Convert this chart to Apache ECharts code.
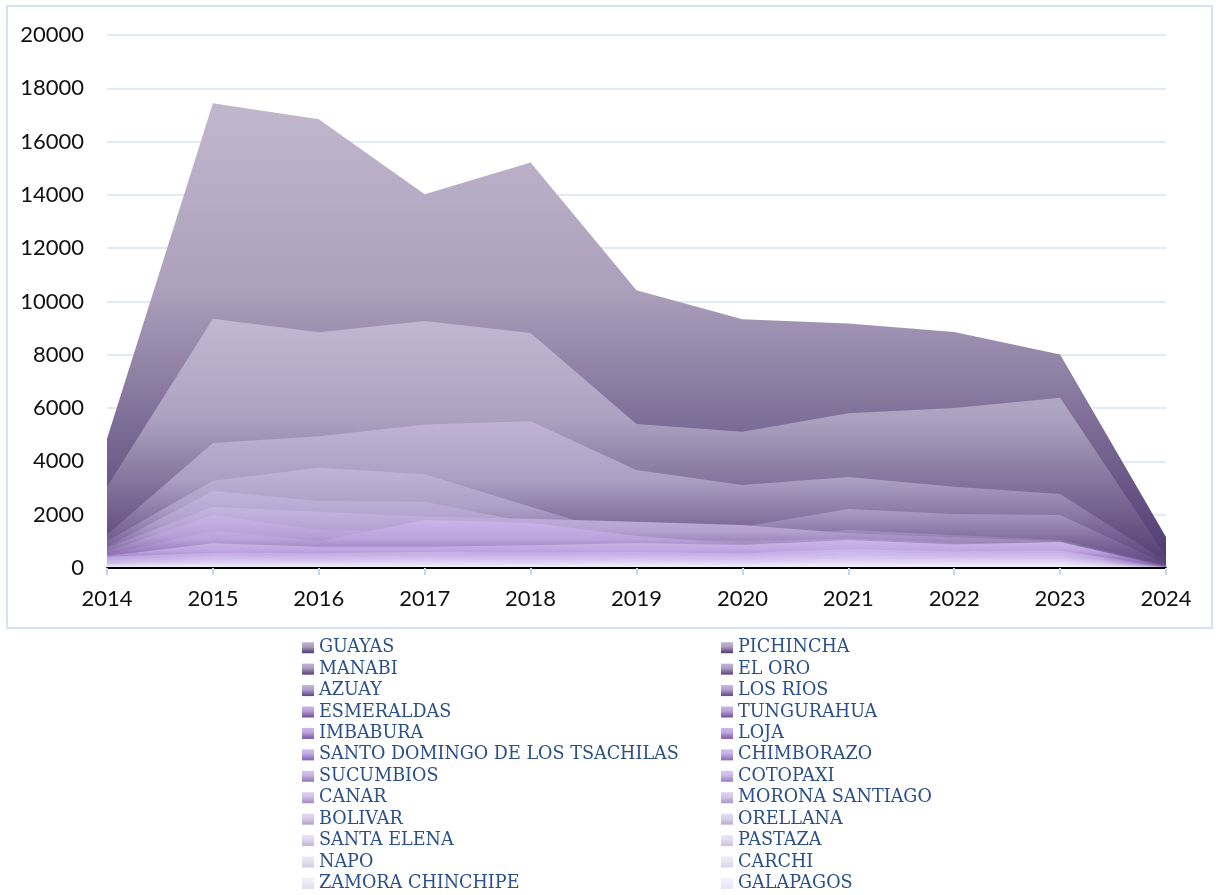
<!DOCTYPE html>
<html>
<head>
<meta charset="utf-8">
<script src="https://cdn.jsdelivr.net/npm/echarts@6/dist/echarts.min.js"></script>
<style>
html,body{margin:0;padding:0;background:#fff;}
#chart{width:1219px;height:895px;}
</style>
</head>
<body>
<div id="chart"></div>
<script>
// ---- data ----
const years = ['2014','2015','2016','2017','2018','2019','2020','2021','2022','2023','2024'];
const yTicks = [0, 2000, 4000, 6000, 8000, 10000, 12000, 14000, 16000, 18000, 20000];
const provinces = ['GUAYAS','PICHINCHA','MANABI','EL ORO','AZUAY','LOS RIOS','ESMERALDAS','TUNGURAHUA','IMBABURA','LOJA','SANTO DOMINGO DE LOS TSACHILAS','CHIMBORAZO','SUCUMBIOS','COTOPAXI','CANAR','MORONA SANTIAGO','BOLIVAR','ORELLANA','SANTA ELENA','PASTAZA','NAPO','CARCHI','ZAMORA CHINCHIPE','GALAPAGOS'];

const guayas      = [4850, 17440, 16840, 14020, 15220, 10420, 9330, 9170, 8860, 8010, 1160];
const pichincha   = [3050, 9350, 8850, 9270, 8820, 5400, 5110, 5810, 6000, 6390, 450];
const manabi      = [1250, 4690, 4940, 5380, 5510, 3680, 3110, 3410, 3050, 2780, 250];
const elOro       = [1000, 3270, 3760, 3515, 2300, 1100, 1550, 2210, 2025, 1990, 150];
const azuay       = [800, 2890, 2510, 2490, 1700, 1200, 1100, 1425, 1240, 1050, 120];
const losRios     = [750, 2300, 2112, 1925, 1850, 1740, 1610, 1300, 1150, 1000, 100];
const esmeraldas  = [620, 1990, 1425, 1400, 1300, 1100, 1000, 1110, 950, 900, 90];
const tungurahua  = [520, 1400, 1000, 1800, 1700, 1200, 900, 1000, 900, 850, 80];
const imbabura    = [450, 925, 800, 800, 850, 940, 860, 1050, 880, 980, 70];
const loja        = [420, 575, 560, 600, 580, 600, 560, 700, 620, 650, 60];
const santoDomingo= [380, 500, 480, 520, 500, 520, 500, 600, 540, 560, 55];
const chimborazo  = [320, 450, 430, 460, 450, 470, 450, 520, 480, 500, 50];
const sucumbios   = [280, 400, 380, 410, 400, 420, 400, 460, 430, 440, 45];
const cotopaxi    = [240, 350, 340, 360, 350, 370, 350, 400, 380, 390, 40];
const canar       = [200, 300, 290, 310, 300, 320, 300, 350, 330, 340, 35];
const morona      = [170, 260, 250, 270, 260, 280, 260, 300, 290, 290, 30];
const bolivar     = [150, 220, 215, 230, 220, 240, 220, 260, 250, 250, 28];
const orellana    = [130, 190, 185, 200, 190, 205, 190, 220, 215, 215, 25];
const santaElena  = [110, 160, 155, 170, 160, 175, 160, 190, 180, 180, 22];
const pastaza     = [90, 130, 128, 140, 130, 145, 135, 160, 150, 150, 18];
const napo        = [80, 110, 105, 115, 110, 120, 110, 130, 125, 125, 15];
const carchi      = [70, 90, 88, 95, 90, 100, 90, 105, 100, 100, 12];
const zamora      = [60, 70, 68, 75, 70, 80, 72, 85, 80, 80, 10];
const galapagos   = [40, 40, 38, 42, 40, 45, 40, 48, 45, 45, 5];

const seriesValues = [guayas, pichincha, manabi, elOro, azuay, losRios, esmeraldas, tungurahua, imbabura, loja, santoDomingo, chimborazo, sucumbios, cotopaxi, canar, morona, bolivar, orellana, santaElena, pastaza, napo, carchi, zamora, galapagos];

// ---- styles ----
const lightColors = ['#c1b7cd','#c2b8d2','#c0b3d4','#c1b3d8','#c3b4dc','#c5b4e0','#c8b3e6','#cab4ea','#ccb6ec','#ceb8ee','#d0bbf0','#d2bff0','#d5c3f0','#d8c8f1','#dbcdf2','#ded2f3','#e1d7f4','#e4dcf5','#e6e0f5','#e9e4f6','#ebe8f7','#eeebf8','#f0eef9','#f3f1fa'];
const darkColors  = ['#4e3870','#503a70','#553e76','#5a427c','#5e4482','#644888','#6a4c90','#704f98','#7654a0','#7c5aa8','#8262ae','#8a6ab4','#9274b8','#9a7ebe','#a28ac2','#aa96c6','#b2a2ca','#baacd0','#c2b6d6','#cac0dc','#d2cae2','#d9d3e8','#e0dbee','#e7e3f2'];

function hex2rgb(h){return [parseInt(h.slice(1,3),16),parseInt(h.slice(3,5),16),parseInt(h.slice(5,7),16)];}
function mix(a,b,t){const A=hex2rgb(a),B=hex2rgb(b);return 'rgb('+A.map((v,i)=>Math.round(v+(B[i]-v)*t)).join(',')+')';}
function grad(i){
  const l=lightColors[i], d=darkColors[i];
  return new echarts.graphic.LinearGradient(0,0,0,1,[
    {offset:0,color:mix(l,d,0)},
    {offset:0.4,color:mix(l,d,0.18)},
    {offset:0.7,color:mix(l,d,0.6)},
    {offset:1,color:mix(l,d,1)}
  ]);
}

const series = provinces.map((name,i)=>({
  name: name,
  type: 'line',
  data: seriesValues[i],
  showSymbol: false,
  symbol: 'none',
  lineStyle: {width: 0},
  itemStyle: {color: grad(i)},
  areaStyle: {color: grad(i), opacity: 1},
  emphasis: {disabled: true},
  silent: true
}));

const legendText = {fontFamily: 'DejaVu Serif', fontSize: 17.6, color: '#2b4f88', lineHeight: 21.43};
const leftNames = provinces.filter((_,i)=>i%2===0);
const rightNames = provinces.filter((_,i)=>i%2===1);

const chart = echarts.init(document.getElementById('chart'), null, {renderer:'canvas'});
chart.setOption({
  animation: false,
  backgroundColor: '#fff',
  grid: {left: 107, right: 53, top: 35, bottom: 327},
  xAxis: {
    type: 'category',
    data: years,
    boundaryGap: false,
    axisLine: {show: true, lineStyle: {color: '#000', width: 2}},
    axisTick: {show: true, length: 7, lineStyle: {color: '#c6d6ec', width: 2}},
    axisLabel: {fontFamily: 'Lato', fontSize: 22, color: '#111', margin: 20},
    splitLine: {show: false},
    z: 10
  },
  yAxis: {
    type: 'value',
    min: yTicks[0],
    max: yTicks[yTicks.length-1],
    interval: 2000,
    axisLine: {show: false},
    axisTick: {show: false},
    axisLabel: {fontFamily: 'Lato', fontSize: 22, color: '#111', margin: 23, formatter: v => String(v)},
    splitLine: {show: true, lineStyle: {color: '#d8e4f2', width: 1.5}}
  },
  legend: [
    {data: leftNames, orient: 'vertical', left: 302, top: 637, padding: 0, itemGap: 0, itemWidth: 12, itemHeight: 11, icon: 'rect', textStyle: legendText, selectedMode: false},
    {data: rightNames, orient: 'vertical', left: 721, top: 637, padding: 0, itemGap: 0, itemWidth: 12, itemHeight: 11, icon: 'rect', textStyle: legendText, selectedMode: false}
  ],
  graphic: [
    {type: 'rect', shape: {x: 7, y: 6, width: 1205, height: 622}, style: {fill: 'none', stroke: '#d6e2f0', lineWidth: 2}, silent: true, z: -1}
  ],
  series: series
});
</script>
</body>
</html>
